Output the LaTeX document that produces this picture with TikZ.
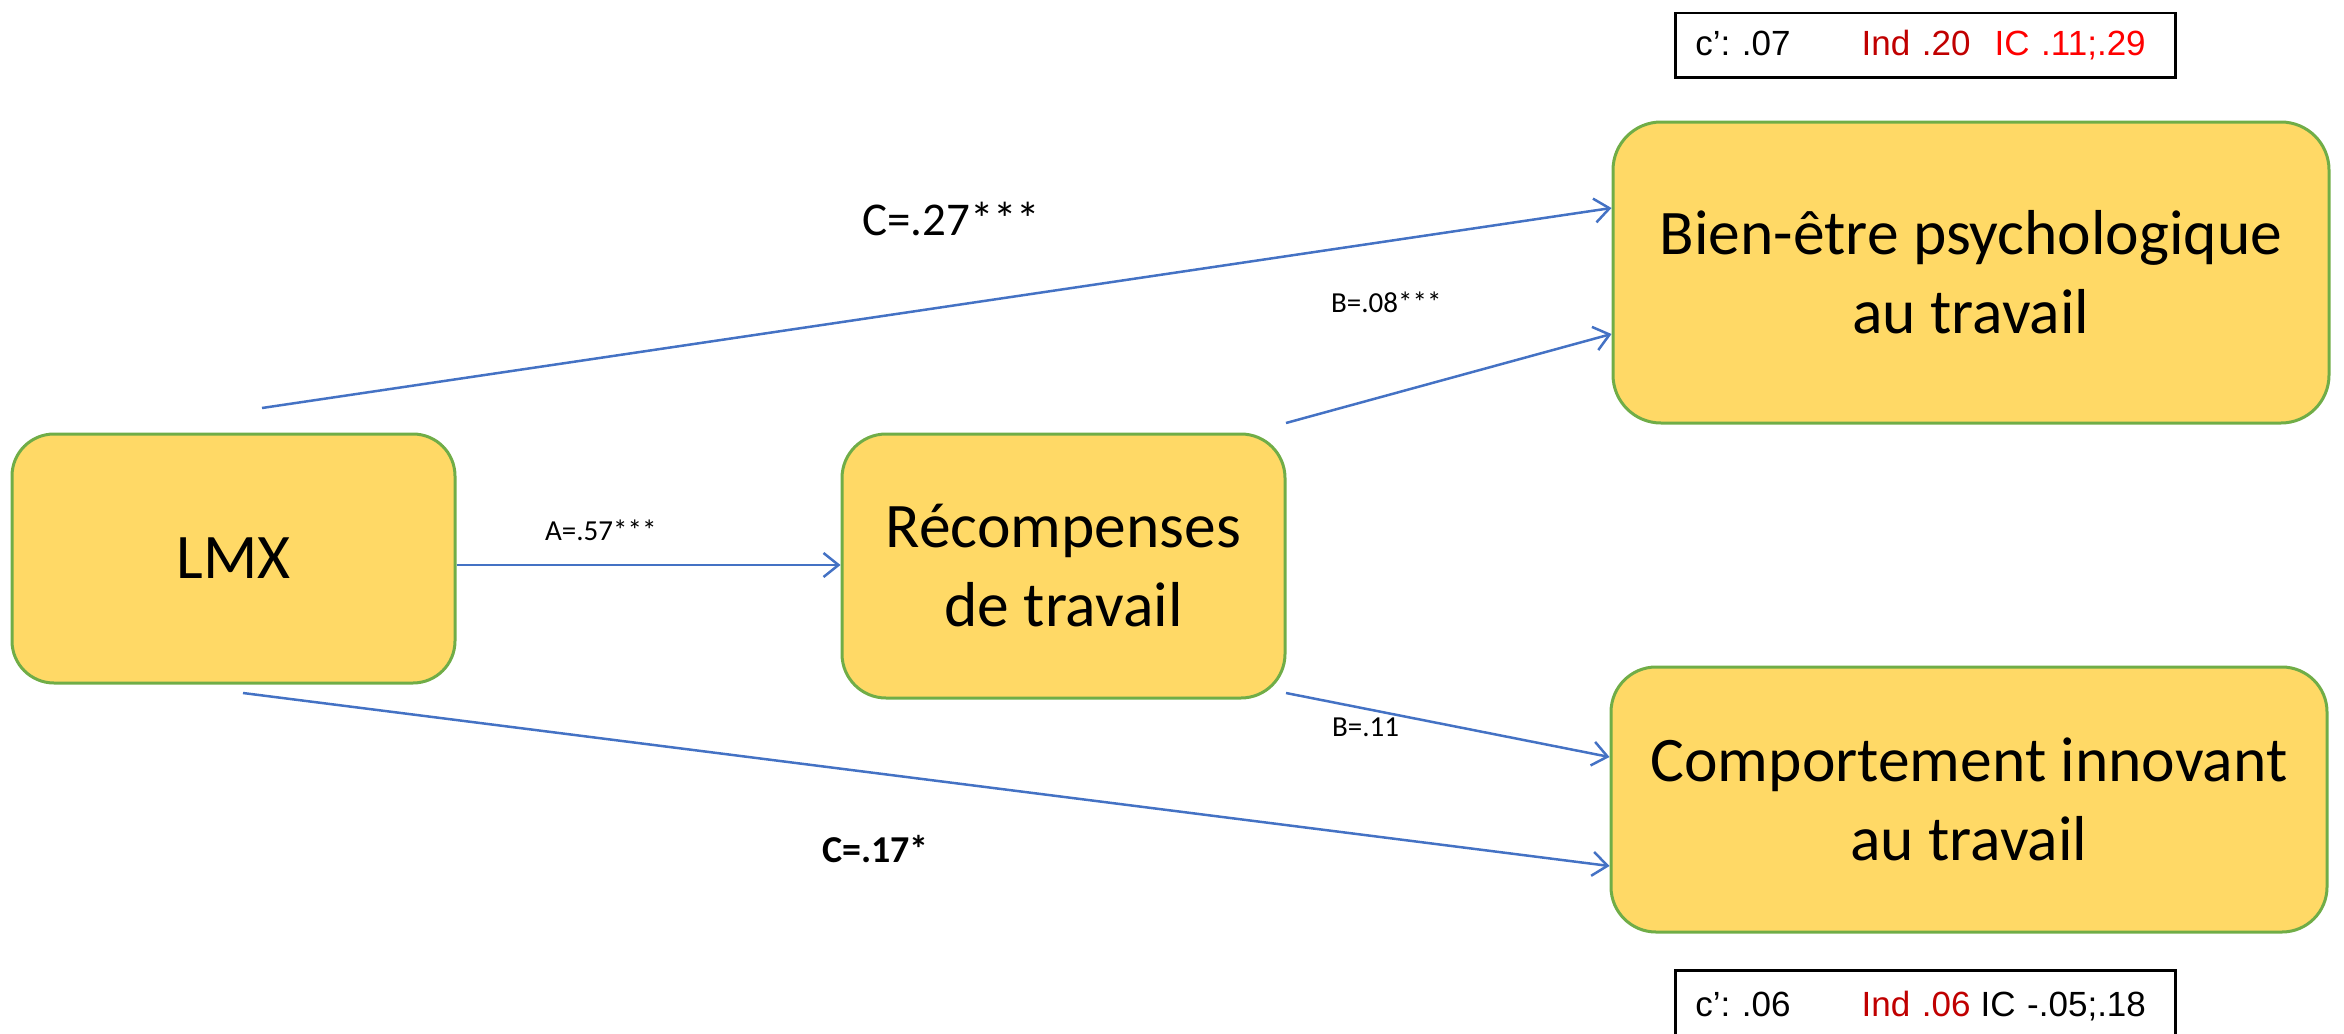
\documentclass[tikz,border=0pt]{standalone}
\usepackage{fontspec}
\setmainfont{Carlito}
\newfontfamily\arialf{Liberation Sans}
\usetikzlibrary{arrows.meta}
\definecolor{boxfill}{HTML}{FFD966}
\definecolor{boxline}{HTML}{70AD47}
\definecolor{arrblue}{HTML}{4472C4}
\definecolor{darkred}{HTML}{C00000}
\definecolor{brightred}{HTML}{FF0000}
\begin{document}
\begin{tikzpicture}[x=1pt,y=-1pt,
  varbox/.style={draw=boxline, fill=boxfill, line width=3pt, align=center,
    inner sep=0pt, font=\fontsize{63.5}{79}\selectfont},
  lab/.style={inner sep=0pt, anchor=base west, font=\fontsize{29}{35}\selectfont},
  arr/.style={draw=arrblue, line width=2.5pt, -{Straight Barb[length=15pt,width=24pt]}},
  info/.style={draw=black, line width=2.5pt, anchor=north west, text width=460pt,
    inner xsep=20pt, inner ysep=0pt, align=left,
    font=\arialf\fontsize{35}{42}\selectfont\frenchspacing}
]
\useasboundingbox (0,0) rectangle (2344,1033);

% variable boxes
\node[varbox, rounded corners=42pt, minimum width=443pt, minimum height=249pt] (lmx) at (233.5,558.5) {LMX};
\node[varbox, rounded corners=44pt, minimum width=443pt, minimum height=264pt] (rec) at (1063.5,566) {Récompenses\\de travail};
\node[varbox, rounded corners=48pt, minimum width=716pt, minimum height=301pt] (bien) at (1971,272.5) {Bien-être psychologique\\au travail};
\node[varbox, rounded corners=45pt, minimum width=716pt, minimum height=265pt] (comp) at (1969,799.5) {Comportement innovant\\au travail};

% connector free ends
\coordinate (cts) at (262,408);
\coordinate (bts) at (1286,423);
\coordinate (bbs) at (1286,693);
\coordinate (cbs) at (243,693);
\coordinate (alev) at (0,565);

% connectors
\draw[arr] (lmx.east |- alev) -- (rec.west |- alev);
\draw[arr] (cts) -- (bien.west |- 0,208);
\draw[arr] (bts) -- (bien.west |- 0,334);
\draw[arr] (bbs) -- (comp.west |- 0,757);
\draw[arr] (cbs) -- (comp.west |- 0,866);

% labels
\node[lab, font=\fontsize{47}{56}\selectfont] (lc1) at (862,235) {C=.27***};
\node[lab] (lb1) at (1331,312) {B=.08***};
\node[lab] (la) at (545,540) {A=.57***};
\node[lab] (lb2) at (1332,736) {B=.11};
\node[lab, font=\fontsize{38}{46}\selectfont\bfseries] (lc2) at (822,862) {C=.17*};

% info boxes
\node[info, minimum height=64pt] (inf1) at (1674,12) {\makebox[0pt][l]{c’: .07\hspace{71pt}\textcolor{darkred}{Ind .20}\hspace{24pt}\textcolor{brightred}{IC .11;.29}}};
\node[info, minimum height=72pt] (inf2) at (1674,969) {\makebox[0pt][l]{\raisebox{4pt}{c’: .06\hspace{71pt}\textcolor{darkred}{Ind .06}\hspace{10pt}IC -.05;.18}}};
\end{tikzpicture}
\end{document}
